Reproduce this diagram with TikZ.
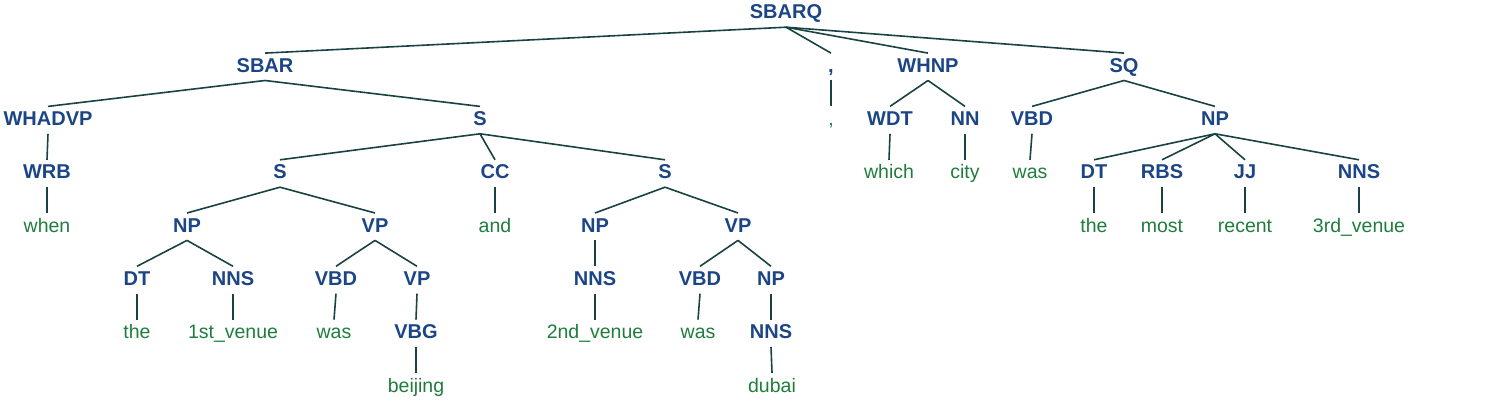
\documentclass[tikz,border=0pt]{standalone}
\usepackage{fontspec}
\setmainfont{Liberation Sans}
\definecolor{tagc}{HTML}{1C4585}
\definecolor{wordc}{HTML}{1E7D3C}
\definecolor{edgec}{HTML}{1A4242}
\tikzset{
  tg/.style={anchor=base, font=\fontsize{20}{21}\selectfont\bfseries, text=tagc,
    text height=14pt, text depth=3pt, inner ysep=5pt, inner xsep=0pt},
  wd/.style={anchor=base, font=\fontsize{19.5}{20}\selectfont, text=wordc,
    text height=14pt, text depth=3pt, inner ysep=5pt, inner xsep=0pt},
  edge/.style={draw=edgec, line width=1.6pt}
}
\begin{document}
\begin{tikzpicture}[x=1pt,y=-1pt]
\useasboundingbox (0,0) rectangle (1503,419);
\def\La{19}\def\Lb{72.3}\def\Lc{125.6}\def\Ld{179}\def\Le{232.2}\def\Lf{285.5}\def\Lg{338.8}\def\Lh{392}
% level 0
\node[tg] (sbarq) at (786,\La) {SBARQ};
% level 1
\node[tg] (sbar) at (265,\Lb) {SBAR};
\node[tg] (commat) at (831,\Lb) {,};
\node[tg] (whnp) at (928,\Lb) {WHNP};
\node[tg] (sq) at (1124,\Lb) {SQ};
% level 2
\node[tg] (whadvp) at (48,\Lc) {WHADVP};
\node[tg] (s1) at (480,\Lc) {S};
\node[wd] (commaw) at (831,\Lc) {,};
\node[tg] (wdt) at (890,\Lc) {WDT};
\node[tg] (nn) at (965,\Lc) {NN};
\node[tg] (vbd3) at (1032,\Lc) {VBD};
\node[tg] (np4) at (1215,\Lc) {NP};
% level 3
\node[tg] (wrb) at (47,\Ld) {WRB};
\node[tg] (s2) at (280,\Ld) {S};
\node[tg] (cc) at (495,\Ld) {CC};
\node[tg] (s3) at (665,\Ld) {S};
\node[wd] (which) at (889,\Ld) {which};
\node[wd] (city) at (965,\Ld) {city};
\node[wd] (was3) at (1030,\Ld) {was};
\node[tg] (dt2) at (1094,\Ld) {DT};
\node[tg] (rbs) at (1162,\Ld) {RBS};
\node[tg] (jj) at (1245,\Ld) {JJ};
\node[tg] (nns4) at (1359,\Ld) {NNS};
% level 4
\node[wd] (when) at (47,\Le) {when};
\node[tg] (np1) at (187,\Le) {NP};
\node[tg] (vp1) at (375,\Le) {VP};
\node[wd] (and) at (495,\Le) {and};
\node[tg] (np2) at (595,\Le) {NP};
\node[tg] (vp3) at (738,\Le) {VP};
\node[wd] (the2) at (1094,\Le) {the};
\node[wd] (most) at (1162,\Le) {most};
\node[wd] (recent) at (1245,\Le) {recent};
\node[wd] (venue3) at (1359,\Le) {3rd\_venue};
% level 5
\node[tg] (dt1) at (137,\Lf) {DT};
\node[tg] (nns1) at (233,\Lf) {NNS};
\node[tg] (vbd1) at (336,\Lf) {VBD};
\node[tg] (vp2) at (417,\Lf) {VP};
\node[tg] (nns2) at (595,\Lf) {NNS};
\node[tg] (vbd2) at (700,\Lf) {VBD};
\node[tg] (np3) at (771,\Lf) {NP};
% level 6
\node[wd] (the1) at (137,\Lg) {the};
\node[wd] (venue1) at (233,\Lg) {1st\_venue};
\node[wd] (was1) at (334,\Lg) {was};
\node[tg] (vbg) at (416,\Lg) {VBG};
\node[wd] (venue2) at (595,\Lg) {2nd\_venue};
\node[wd] (was2) at (698,\Lg) {was};
\node[tg] (nns3) at (771,\Lg) {NNS};
% level 7
\node[wd] (beijing) at (416,\Lh) {beijing};
\node[wd] (dubai) at (772,\Lh) {dubai};
% edges
\foreach \p/\c in {sbarq/sbar, sbarq/commat, sbarq/whnp, sbarq/sq,
  sbar/whadvp, sbar/s1, whadvp/wrb, wrb/when,
  s1/s2, s1/cc, s1/s3, s2/np1, s2/vp1, np1/dt1, np1/nns1, dt1/the1, nns1/venue1,
  vp1/vbd1, vp1/vp2, vbd1/was1, vp2/vbg, vbg/beijing, cc/and,
  s3/np2, s3/vp3, np2/nns2, nns2/venue2, vp3/vbd2, vp3/np3, vbd2/was2, np3/nns3, nns3/dubai,
  commat/commaw, whnp/wdt, whnp/nn, wdt/which, nn/city,
  sq/vbd3, sq/np4, vbd3/was3, np4/dt2, np4/rbs, np4/jj, np4/nns4,
  dt2/the2, rbs/most, jj/recent, nns4/venue3}
  \draw[edge] (\p.south) -- (\c.north);
\end{tikzpicture}
\end{document}
